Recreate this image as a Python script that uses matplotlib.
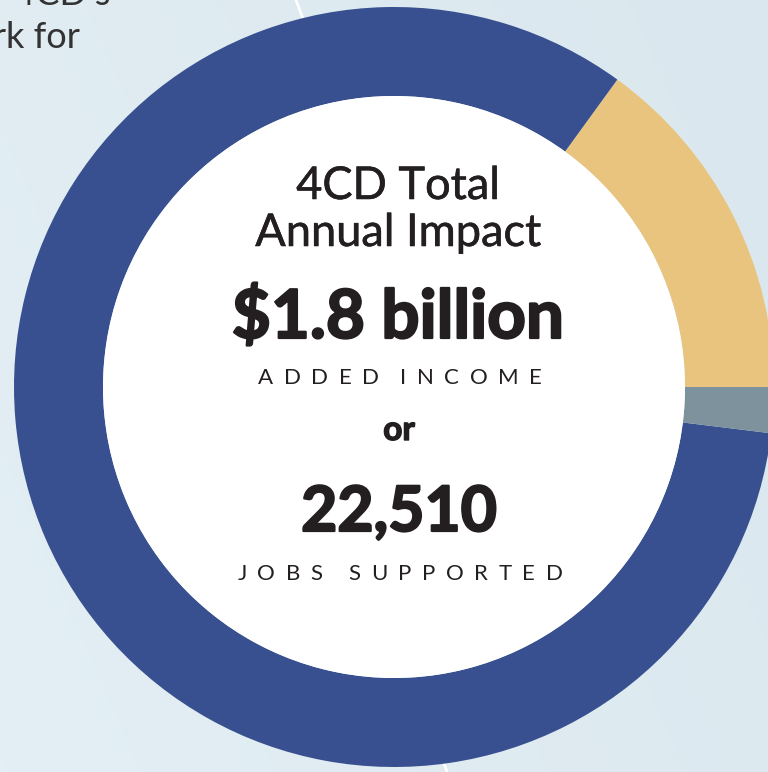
import matplotlib
matplotlib.use("Agg")
import matplotlib.pyplot as plt
import matplotlib.patheffects as pe
import numpy as np
from matplotlib.patches import Circle
from matplotlib.colors import LinearSegmentedColormap

# ---- data (US$ millions of added income) ----
segments = ["Operations spending impact", "Alumni impact", "Student spending impact"]
values = [270, 1495, 35]
colors = ["#E9C47E", "#38508F", "#7D929C"]

title_lines = ["4CD Total", "Annual Impact"]
income_text = "$1.8 billion"
income_label = "ADDED INCOME"
jobs_text = "22,510"
jobs_label = "JOBS SUPPORTED"

W, H = 768, 772
fig = plt.figure(figsize=(W / 100, H / 100), dpi=100)
ax = fig.add_axes([0, 0, 1, 1])

# background gradient
cmap = LinearSegmentedColormap.from_list("bg", ["#E3EFF4", "#DAE7EE"])
gx, gy = np.meshgrid(np.linspace(0, 1, 200), np.linspace(0, 1, 200))
ax.imshow(gx * 0.7 + gy * 0.3, cmap=cmap, extent=[0, W, 0, H], origin="lower",
          zorder=-2, aspect="auto")

# decorative white lines
ax.plot([296, 303], [H - 0, H - 19], color="white", lw=2, zorder=-1)
ax.plot([442, 447], [H - 757, H - 772], color="white", lw=2, zorder=-1)

cx, cy = 394, H - 387
R_out, R_in = 380, 291
ax.pie(values, colors=colors, startangle=0, counterclock=True, radius=R_out,
       center=(cx, cy), wedgeprops=dict(width=R_out - R_in, linewidth=0))
ax.add_patch(Circle((cx, cy), R_in, facecolor="white", edgecolor="none", zorder=3))

ax.set_xlim(0, W)
ax.set_ylim(0, H)
ax.set_aspect("equal")
ax.axis("off")

TXT = "#231F20"
REG = ["Lato", "DejaVu Sans"]

def T(x, y_img, s, size, weight="normal", ha="center", color=TXT, stroke=0):
    t = ax.text(x, H - y_img, s, fontsize=size, fontweight=weight, ha=ha, va="baseline",
                color=color, family=REG, zorder=5)
    if stroke:
        t.set_path_effects([pe.withStroke(linewidth=stroke, foreground=color)])
    return t

renderer = fig.canvas.get_renderer()

def tracked(xc, y_img, s, size, target_w, space_factor=0.5):
    ws = []
    for ch in s:
        if ch == " ":
            t = ax.text(0, 0, "x x", fontsize=size, family=REG)
            t2 = ax.text(0, 0, "xx", fontsize=size, family=REG)
            w = t.get_window_extent(renderer).width - t2.get_window_extent(renderer).width
            w *= space_factor
            t.remove(); t2.remove()
        else:
            t = ax.text(0, 0, ch, fontsize=size, family=REG)
            w = t.get_window_extent(renderer).width
            t.remove()
        ws.append(w)
    track = (target_w - sum(ws)) / (len(s) - 1)
    x = xc - target_w / 2
    for ch, w in zip(s, ws):
        if ch != " ":
            ax.text(x, H - y_img, ch, fontsize=size, ha="left", va="baseline",
                    color=TXT, family=REG, zorder=5)
        x += w + track

# top-left paragraph fragment (cropped in the original too)
T(110, 5, "of 4CD\u2019s", 26, ha="right", color="#333333")
T(80, 48, "work for", 26, ha="right", color="#333333")

T(398, 199, title_lines[0], 32.5, stroke=0.4)
T(398, 246, title_lines[1], 32.5, stroke=0.4)
T(398, 338, income_text, 48.5, weight="bold", stroke=1.6)
tracked(400, 384, income_label, 16, 284, space_factor=0.0)
T(399, 440, "or", 24, weight="bold", stroke=1.0)
T(399, 531, jobs_text, 45, weight="bold", stroke=1.6)
tracked(400, 580, jobs_label, 16, 325, space_factor=0.8)

fig.savefig("out.png", dpi=100)
